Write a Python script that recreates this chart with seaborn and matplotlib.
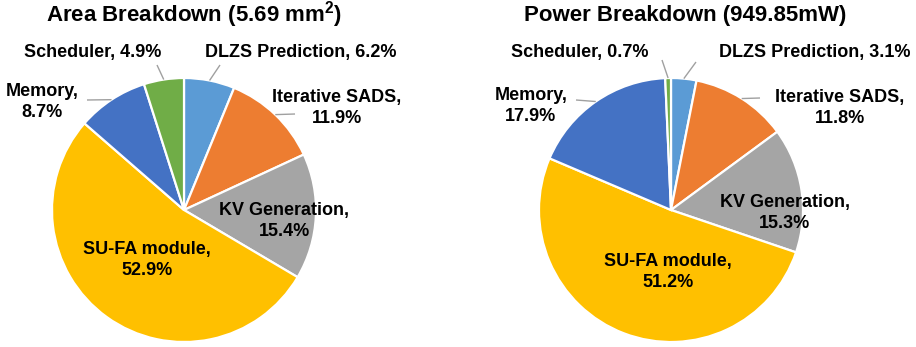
import numpy as np
import matplotlib
matplotlib.use("Agg")
import matplotlib.pyplot as plt
import seaborn as sns

# ---------------- data ----------------
categories = ["DLZS Prediction", "Iterative SADS", "KV Generation",
              "SU-FA module", "Memory", "Scheduler"]
area_pct = [6.2, 11.9, 15.4, 52.9, 8.7, 4.9]
power_pct = [3.1, 11.8, 15.3, 51.2, 17.9, 0.7]
titles = ["Area Breakdown (5.69 mm$^{2}$)", "Power Breakdown (949.85mW)"]
colors = ["#5B9BD5", "#ED7D31", "#A5A5A5", "#FFC000", "#4472C4", "#70AD47"]

# ---------------- style ----------------
sns.set_theme(style="white")
plt.rcParams["font.family"] = ["Liberation Sans", "DejaVu Sans"]
plt.rcParams["mathtext.default"] = "regular"

W, H = 916, 347
fig = plt.figure(figsize=(W / 100, H / 100), dpi=100)
ax = fig.add_axes([0, 0, 1, 1])


def P(x, y):
    """pixel position measured from top-left -> axes coords (y up)"""
    return x, H - y


# layout (pixel positions, y from top)
centers = [(184, 210), (671, 210)]
radius = 132
title_pos = [(194, 21), (685, 21)]
label_pos = [
    [(301, 52), (337, 108), (284, 221), (147, 260), (42, 102), (93, 52)],
    [(815, 52), (840, 108), (785, 213), (668, 272), (531, 106), (580, 52)],
]
leader_ends = [
    [(220, 65), (295, 114), None, None, (87, 100), (157, 65)],
    [(696, 62), (760, 98), None, None, (576, 100), (662, 60)],
]

for k, vals in enumerate([area_pct, power_pct]):
    cx, cy = P(*centers[k])
    wedges, _ = ax.pie(vals, colors=colors, startangle=90, counterclock=False,
                       center=(cx, cy), radius=radius, frame=True,
                       wedgeprops=dict(edgecolor="white", linewidth=1.6))
    for i, (w, cat, v) in enumerate(zip(wedges, categories, vals)):
        two_line = cat not in ("DLZS Prediction", "Scheduler")
        txt = f"{cat},\n{v}%" if two_line else f"{cat}, {v}%"
        lx, ly = P(*label_pos[k][i])
        ax.text(lx, ly, txt, ha="center", va="center", fontsize=13,
                fontweight="bold", color="black", linespacing=1.25)
        end = leader_ends[k][i]
        if end is not None:
            ex, ey = P(*end)
            mid = np.deg2rad((w.theta1 + w.theta2) / 2)
            wx = cx + radius * np.cos(mid)
            wy = cy + radius * np.sin(mid)
            ax.plot([ex, wx], [ey, wy], color="#A0A0A0", lw=1.0,
                    solid_capstyle="butt")
    tx, ty = P(*title_pos[k])
    ax.text(tx, ty, titles[k], ha="center", va="baseline", fontsize=16,
            fontweight="bold", color="black")

ax.set_xlim(0, W)
ax.set_ylim(0, H)
ax.set_aspect("equal")
ax.axis("off")

fig.savefig("out.png", dpi=100)
